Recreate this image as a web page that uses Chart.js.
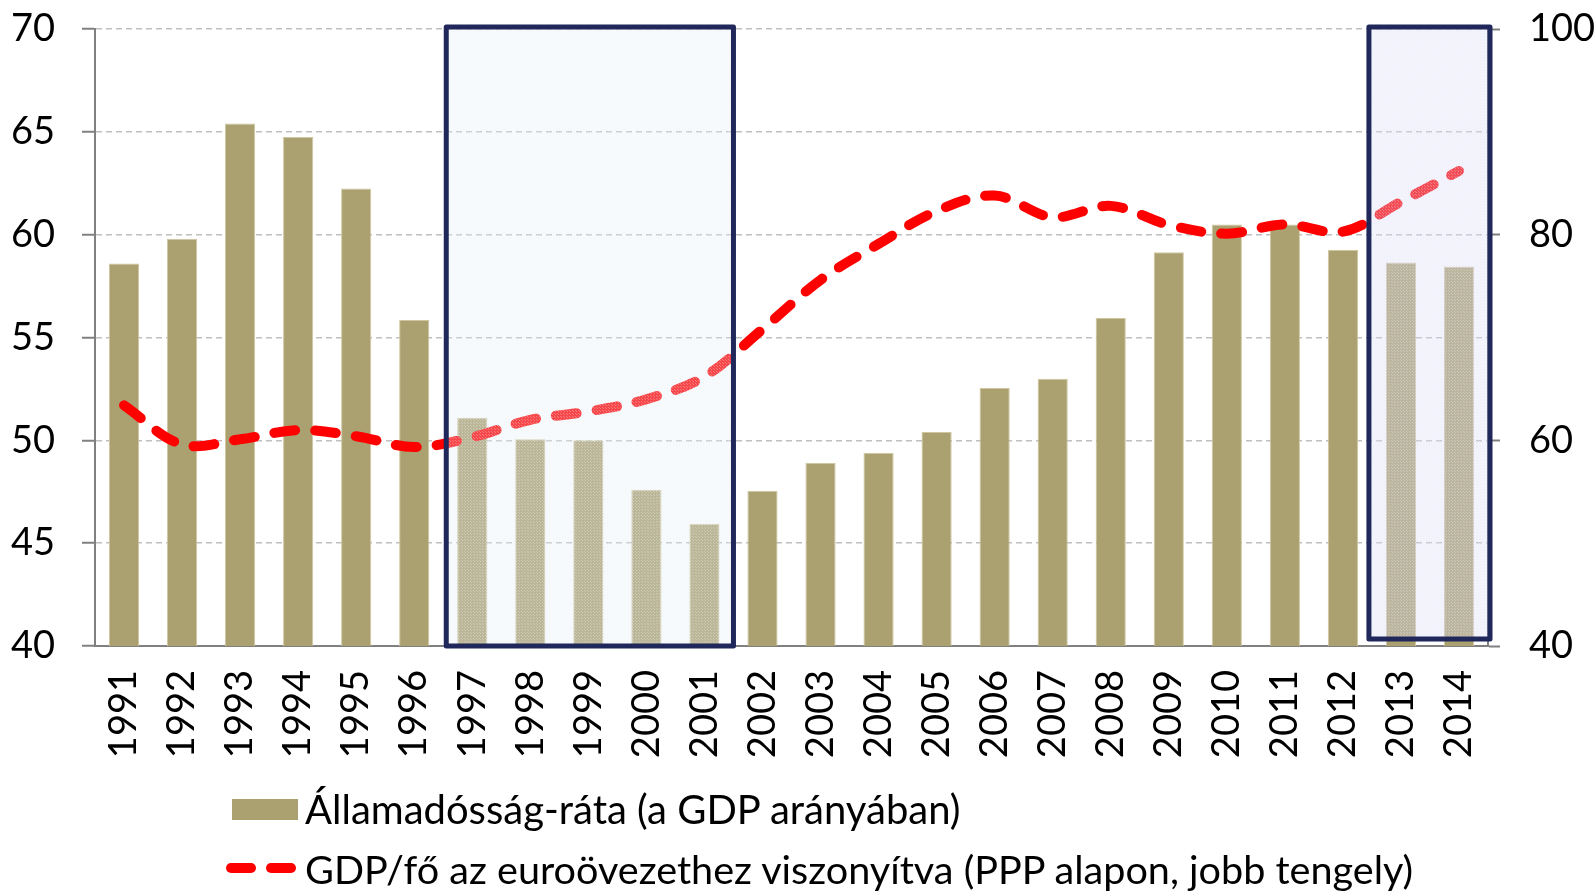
<!DOCTYPE html>
<html>
<head>
<meta charset="utf-8">
<script src="https://cdn.jsdelivr.net/npm/chart.js@4"></script>
<style>
  body { margin: 0; background: #fff; }
  #wrap { position: relative; width: 1596px; height: 891px; font-family: Lato, sans-serif; }
  #chart { position: absolute; left: 0; top: 0; }
  .leg { position: absolute; left: 0; height: 40px; display: flex; align-items: center; font-size: 40px; color: #000; white-space: nowrap; }
  .leg .txt { position: absolute; left: 305px; }
  .sw-bar { position: absolute; left: 232px; width: 66px; height: 21px; background: #ABA06F; }
  .sw-dash { position: absolute; height: 10px; width: 30px; border-radius: 5px; background: #FF0000; }
</style>
</head>
<body>
<div id="wrap">
  <canvas id="chart" width="1596" height="891"></canvas>
  <div class="leg" style="top:789px"><span class="sw-bar"></span><span class="txt">Államadósság-ráta (a GDP arányában)</span></div>
  <div class="leg" style="top:848px; font-size:39.6px"><span class="sw-dash" style="left:226px"></span><span class="sw-dash" style="left:266px"></span><span class="txt">GDP/fő az euroövezethez viszonyítva (PPP alapon, jobb tengely)</span></div>
</div>
<script>
// ── Données ──────────────────────────────────────────────
const YEARS = ['1991','1992','1993','1994','1995','1996','1997','1998','1999','2000','2001','2002',
               '2003','2004','2005','2006','2007','2008','2009','2010','2011','2012','2013','2014'];
const DEBT_RATIO = [58.6, 59.8, 65.4, 64.75, 62.25, 55.85, 51.1, 50.05, 50.0, 47.6, 45.95, 47.55,
                    48.9, 49.4, 50.4, 52.55, 53.0, 55.95, 59.15, 60.5, 60.5, 59.25, 58.65, 58.45];
const GDP_PER_CAPITA = [63.4, 59.6, 60.1, 61.0, 60.4, 59.35, 60.3, 62.0, 62.8, 64.0, 66.2, 70.8,
                        75.6, 79.1, 82.3, 83.8, 81.7, 82.8, 80.95, 80.1, 81.0, 80.3, 83.2, 86.2];
const LEFT_TICKS  = { min: 40, max: 70, step: 5 };
const RIGHT_TICKS = { min: 40, max: 100, step: 20 };
// périodes encadrées
const HIGHLIGHTS = [
  { from: '1997', to: '2001', fill: 'rgba(226,234,246,0.30)', dL: 3, dR: 0, dB: 0 },
  { from: '2013', to: '2014', fill: 'rgba(218,218,250,0.35)', dL: -3, dR: 2, dB: -7 }
];

const TAN = '#ABA06F';
const RED = '#FF0000';
const NAVY = '#20275A';
const AXIS = '#808080';
const GRID = '#BFBFBF';
const FONT = { family: 'Lato, sans-serif', size: 38 };

function makePattern(color) {
  const c = document.createElement('canvas');
  c.width = 3; c.height = 3;
  const g = c.getContext('2d');
  g.fillStyle = color;
  g.fillRect(0, 0, 3, 3);
  g.fillStyle = 'rgba(255,255,255,0.28)';
  g.fillRect(0, 0, 1, 1);
  g.fillRect(2, 2, 1, 1);
  return document.getElementById('chart').getContext('2d').createPattern(c, 'repeat');
}

const highlightBoxes = {
  id: 'highlightBoxes',
  afterDatasetsDraw(chart) {
    const { ctx, chartArea, scales: { x } } = chart;
    const half = (x.getPixelForValue(1) - x.getPixelForValue(0)) / 2;
    HIGHLIGHTS.forEach(h => {
      const l = x.getPixelForValue(YEARS.indexOf(h.from)) - half + h.dL;
      const r = x.getPixelForValue(YEARS.indexOf(h.to)) + half + h.dR;
      const t = chartArea.top - 2;
      const b = chartArea.bottom + h.dB;
      ctx.save();
      ctx.fillStyle = makePattern(h.fill);
      ctx.fillRect(l, t, r - l, b - t);
      ctx.strokeStyle = NAVY;
      ctx.lineWidth = 5;
      ctx.lineJoin = 'round';
      ctx.strokeRect(l, t, r - l, b - t);
      ctx.restore();
    });
  }
};

// pas de marge supplémentaire au-dessus / au-dessous des axes verticaux
const fitVertical = w => s => { s.width = w; s.paddingTop = 0; s.paddingBottom = 0; };

new Chart(document.getElementById('chart'), {
  data: {
    labels: YEARS,
    datasets: [
      {
        type: 'line',
        label: 'GDP/fő az euroövezethez viszonyítva (PPP alapon, jobb tengely)',
        data: GDP_PER_CAPITA,
        yAxisID: 'y1',
        borderColor: RED,
        borderWidth: 10,
        borderDash: [21, 20],
        borderCapStyle: 'round',
        pointRadius: 0,
        tension: 0.35,
        order: 0
      },
      {
        type: 'bar',
        label: 'Államadósság-ráta (a GDP arányában)',
        data: DEBT_RATIO,
        yAxisID: 'y',
        backgroundColor: TAN,
        borderColor: '#CFC6A0',
        borderWidth: 1,
        barPercentage: 0.52,
        categoryPercentage: 1,
        order: 1
      }
    ]
  },
  options: {
    responsive: false,
    animation: false,
    layout: { padding: { top: 29, left: 0, right: 0, bottom: 0 } },
    plugins: { legend: { display: false }, tooltip: { enabled: false } },
    scales: {
      x: {
        grid: { drawOnChartArea: false, drawTicks: false },
        border: { color: AXIS, width: 2 },
        ticks: { minRotation: 90, maxRotation: 90, padding: 24, font: FONT, color: '#000' },
        afterFit: s => { s.height = 245; }
      },
      y: {
        position: 'left',
        min: LEFT_TICKS.min, max: LEFT_TICKS.max,
        ticks: { stepSize: LEFT_TICKS.step, padding: 27, font: FONT, color: '#000' },
        grid: { color: GRID, lineWidth: 1.5, tickLength: 13, tickColor: AXIS, tickWidth: 2 },
        border: { dash: [6, 4], color: AXIS, width: 2 },
        afterFit: fitVertical(95)
      },
      y1: {
        position: 'right',
        min: RIGHT_TICKS.min, max: RIGHT_TICKS.max,
        ticks: { stepSize: RIGHT_TICKS.step, padding: 29, font: FONT, color: '#000' },
        grid: { drawOnChartArea: false, tickLength: 12, tickColor: AXIS, tickWidth: 2 },
        border: { color: AXIS, width: 2 },
        afterFit: fitVertical(108)
      }
    }
  },
  plugins: [highlightBoxes]
});
</script>
</body>
</html>
